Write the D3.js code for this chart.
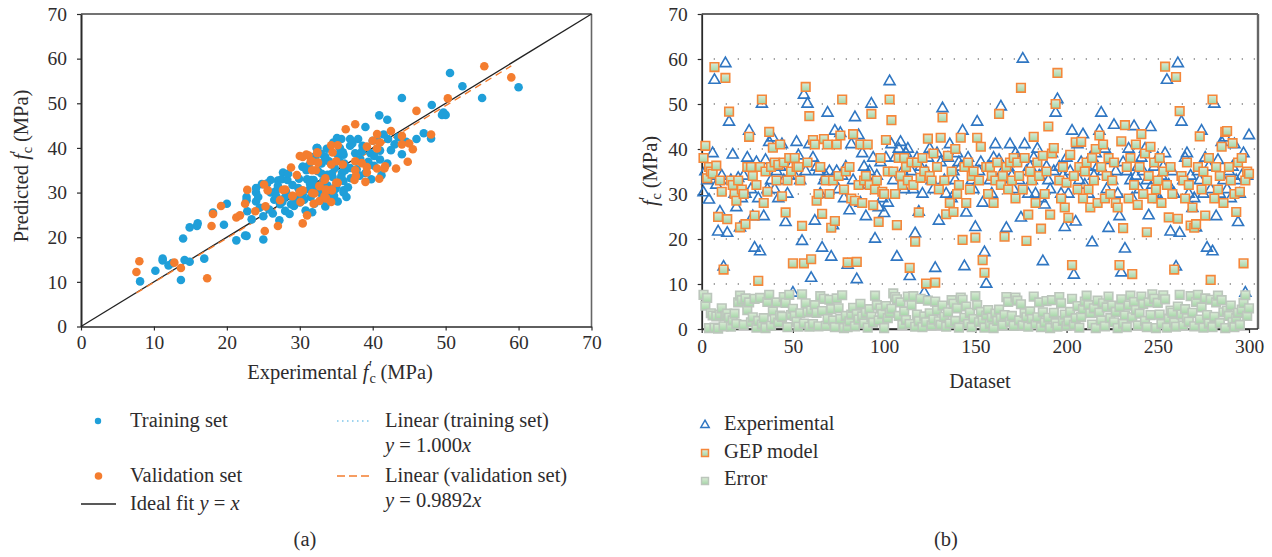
<!DOCTYPE html>
<html><head><meta charset="utf-8">
<script src="https://cdn.jsdelivr.net/npm/d3@7"></script>
<style>
html,body{margin:0;padding:0;background:#fff}
svg{display:block}
text{font-family:"Liberation Serif",serif;fill:#2e2c2d}
</style></head><body>
<svg id="c" width="1272" height="557"></svg>
<script>
const ticksA = [0,10,20,30,40,50,60,70];
const ticksBX = [0,50,100,150,200,250,300];
const gridB = [10,20,30,40,50,60];

const trainX = [8.1,10.2,11.2,11.2,12,12.5,13.7,14.2,14.9,16.9,14,14.9,15.9,16,18.1,19.6,20,21.3,22.5,22.7,25,22.7,22.8,23.4,24,24,25,26.3,27.2,28,
24,24.8,26,27,27.7,26.7,30.4,32.4,31.6,22.7,24.3,24.5,25.5,26,26.5,27,27.5,28,28.3,28.8,29.5,29.8,30,30.4,30.8,31,31.2,31.5,31.7,32,32,32,32.3,32.5,32.8,33,33,33.2,33.5,33.5,33.8,34,34,34.3,34.5,34.8,35,35.2,35.2,35.5,35.6,35.8,36,36,36.1,36,
35.7,36.9,38,32.4,38.6,36.9,36,37.6,39.4,41,42,41.2,36.9,35.7,33,31.9,30.4,40,41,42.1,43,44.6,39.7,38.5,37.2,37.8,38.3,39,40.2,40.6,33.2,33.8,34.4,34.9,35.4,36.2,36.6,37,31.3,30.6,29.2,28.6,29,27.6,26.8,25.8,
50.6,52.3,60,55,44,48.1,49.5,50,49.7,40.9,42,39,46,47,48,44,43.5,41.5,42.5,40.2,38.2,39.8,35.1,34.6,33.7,32.9,32.1,31.4,30.9,29.9,28.4,33.4,34.7,36.4,35.9,28.1,27.3];
const trainY = [10.1,12.5,15.2,14.8,13.7,14.2,10.4,14.9,14.5,15.2,19.7,22.2,22.5,23.1,25.5,22.8,27.5,19.3,20.4,20.3,19.5,28.3,25.8,24,30,28,24.7,25.3,23.8,25.9,
31,31.9,32.8,32.7,34.5,30.3,35.8,40,32.8,29,29,26.6,32,30,28.4,31.5,33,29,32.8,27.4,28.5,31,27.8,29.6,26,33,36,29,25.6,38,31,27.5,40,34.8,30,36.5,28.5,32.5,38,26.9,34,30.6,37,29,33.5,35.5,31.5,38.5,28,40,33,34.5,30,30.5,36.5,32.6,
42,42,42,40,40.5,40.5,38.5,38.8,36.9,37.4,36.5,33.9,35.5,33.7,34.2,32.8,35.8,41.6,39.4,42,40.8,41.4,38.8,39.2,41,35.2,37.5,34.4,38.2,41.8,32,31.6,34.2,30.8,37.1,35,31.2,33.2,30.7,28.4,27,25.2,31.7,27.9,29.1,26.2,
56.8,53.8,53.6,51.2,51.2,49.6,47.4,47.4,47.9,47.3,46.3,44.7,42,43.3,42.1,38.6,42.4,43,39.5,36,33.8,33,42.2,41.2,39.8,38.7,37.6,32,35,33.1,34.2,37.3,29.3,29,39,30.3,27.4];

const valX = [7.6,8,12.8,13.7,17.3,17.9,18.1,19.2,21.3,21.8,22.5,23.9,22.8,25.2,25.3,27,25.1,25.6,30.4,31,28,27.7,28.8,29.6,30.4,31.2,32.4,31.5,32.2,29,30,
27.3,29,30,30.1,32,31.9,32.7,33.6,34.3,34.4,33.6,32.7,35.2,33.4,37.5,34.3,35.2,32.4,30.9,30,31.7,34.5,35,34.3,35.9,32.5,37.6,38.5,39.2,39.2,37.6,37.7,40.6,41.7,41.6,39.2,40,41,40.6,44,44,45,31.7,35,33.5,32.7,34.4,33.6,31.7,33.4,30.4,
55.3,59,50.3,46,37.6,36.3,42.5,48,40.6,44.8,43.2,40.9,39,45.5];
const valY = [12.2,14.6,14.3,13.1,10.8,22.5,25.2,27,24.4,24.9,27.5,25.8,30.6,21.4,26.9,22.5,31.8,30.5,23.1,24.9,30.7,30.6,35.6,33.9,38,38.3,38.8,37,35,29.2,30.2,
28.3,29.3,30,27.9,29.8,27.5,28.1,28.7,27.9,30.5,30.5,31.4,32.2,32.8,32.8,40.6,40.6,39,38.5,38.2,37,39,37,36.3,36.3,36.7,37,36.6,35.7,34.5,35,33.7,35.4,35.9,35.4,40.3,41.6,41.2,39.9,42.7,40.8,41,35,32.2,33.2,31.5,30.7,30.7,29.9,29.2,30.5,
58.3,55.8,51.1,48.3,45.3,44.2,43.8,43,43.1,36.9,35.4,33.1,32.4,39.7];

const experimental = [30.3,35,33,28.7,34,39,55.3,32,21.6,26,34,13.8,59,21.3,46,33,38.7,30,27,33.5,
22.5,29,34,30,38,44,31,25,18,37,29,17.2,50,25,37.5,31,41.5,33,42.5,31,35,29,36,41,33,23.7,30,34,36,8,
34,41.5,38.5,33,19.5,52,35,50,41,11.3,38,24,36,35,30,18,33,34,48,35,16,23,44,35,31,43.5,34,29,36,14.2,
26.3,41,33,47,11,43,28,39,36,25,32,35,50,38,20,34,27,37,29,25.7,38,28,55,41,33,38,16,40,41.5,35,
31,39,40,11.7,35,31,21.2,38,26,36,30,8,35,38,40,33,31,13.5,39,24,37,49,33,30,38,41,29,35,33,39,
37,36,44,13.9,25.8,38,36,33,31,22.6,46,35,37,28,17,10,36,33,30,38,41,33,37.5,49.4,35,32,22.4,36,41,34,
31,39,38,33,24.7,60,41,35,30,36,33,38,30,40,34,29,15,27.6,36,33,31,39,35,48,51,36,30,34,22.6,38,
30,35,44,12,23.8,41,33,37,43.2,32,36,30,38,19.2,34,39,36,44,48,35,40,31,22.4,37.5,33,45.3,35,30,25,12.5,
37,17.8,35,40,33,29,45,34,36,31,38,35,40,33,25.2,44.8,32,36,30,38,28.8,34,36,39,55.3,32,21.6,35,30,13.8,
59,21.3,46,33,38,39,30,34,26.8,29,22.5,35,33,44,30,38,18,36,31,17.2,50,25,37.5,30,41.5,33,42.5,31,35,29,36,41,33,23.7,30,34,39,8,34,43];

const gepModel = [38,40.7,33.5,36,35,34.5,58.2,36.3,24.9,33,30.5,13.2,55.8,24.4,48.3,33,32,30,28.5,33,
22.6,31,30,23.3,36,42.7,36,34,25.2,32,10.7,36,51,28,35,30.5,43.8,36,40.3,37,33,36.5,41,29.5,37,25.9,33,38,35,14.6,
38,36,36,33,22.9,14.6,53.8,37,47.3,15.5,42,41,28.5,30,36,25.6,42.2,33,41,30,22.5,33,24,41,34,43,51,31,35,14.8,
36,29,43.3,28.5,14.9,32,41,28,33,34,41,32,47.8,27.5,31,33,23.8,38,30.5,30,42,35,51,46.4,35,30,23.1,38,34,32,
38,36,33,13.6,37,32,19.4,37,25.9,33.6,38,35,10.1,42.3,34,33,39,10.3,36,31,42.5,47,33,25.5,38.5,28,35,26,40,30,
32,42.5,19.8,36,28,37,31,34,35,20.3,42.5,33,40.5,15.3,12.5,36,30,36,34,28,33,37,47.8,32,34,20.5,36,31,37,33,
38,29,37,34,53.6,31,38,19.6,25.4,35,33,42.7,28,37,34,22.3,38.5,30,35,45,25.4,39,40.2,50,56.9,33,29,36,27,32.5,
24.7,38.7,14.2,34,41.5,31,36,41.6,29,35,37,31,27,38,33,40,28,43,36,41,29,34,38,30,33,37,28,27,14.2,41.7,
22.4,45.3,36,29,38,12.2,32,41,27.6,36,43.3,30,39,21.5,34,40.5,29,37,31,33,38,28,35,58.3,32,24.8,36,30,13.2,56,
24.5,48.4,34,33,29,37,32,23,27,22.5,23.3,36,42.8,31,35,25.2,33,38,10.9,51,29,36,31,34,40.5,28,43.8,44,36,33,41.3,30,26,37,30.5,38,14.6,33,35,34.5];

const errorVals = [7.6,5.2,6.9,0.2,3.5,3,0.3,2.8,0.1,3.2,4.6,0.6,2.9,3.4,2.5,0.5,1.9,3.4,1.1,5.9,
7.4,6.4,0.9,6.8,4.2,5.9,1.5,2.6,6.7,0.3,1.8,6.9,1,2.4,0.2,6,7.6,0.7,3.9,2.2,5.9,1.4,3,2.7,7.1,5.8,0.4,7.6,3.1,4.5,
2.9,1.6,0.5,3.5,7.7,1.2,5.7,3.7,0.5,4.1,1.1,5.3,3.6,0.6,7.3,4,6.7,0.7,2.2,6.5,4.4,1.9,0.4,6.8,4.6,2.2,7.5,0.2,2.9,0.4,
1.7,3.2,4.7,0.6,3.3,2.1,5.6,2.8,1.2,3.6,0.3,4.4,2.7,1.4,7.4,5.3,1.9,4.6,3.3,0.2,5.1,2.4,3.6,4.5,7.9,7.1,6.6,2.9,5.9,0.9,
3.9,2,7.2,1.1,5.3,7.3,0.5,3.2,1.7,6.7,0.4,2.8,1.5,6.3,3.5,0.8,2.1,6.1,4.1,1.7,0.9,5.2,2.7,0.5,3.7,1.2,6.4,5.6,1.8,4.6,
0.3,7,6.5,2.5,5,1.1,3.6,0.4,2.2,7.3,5.3,1.5,3.8,1.9,0.3,3,4.2,1.1,2.5,0.2,3.4,1.8,4.3,2.4,0.8,3.1,7.1,6,1.6,2.9,
0.7,7,6.3,1.9,5.5,0.8,3.5,2.6,0.5,3.9,2.2,7.2,1,2.6,5.9,0.4,3.7,1.4,6.2,2.5,0.2,6.4,3.6,1.3,0.5,7.1,5.7,1.8,3.2,0.7,
1.7,3.8,6.7,0.9,2.4,5.1,0.3,2.7,4.4,6.1,7.4,5.3,3.5,1,4.6,0.2,6.3,3.6,1.9,5.7,0.6,4.8,7.2,2.4,5.2,1.5,3.8,0.2,4.9,6.6,
1.2,3,0.4,5.2,7.4,2.6,6,4.2,0.8,3.4,7.2,5.5,1.8,0.4,5.9,3.1,7.7,6.7,0.2,5.8,3.2,1.1,7.5,6.6,0.3,2.3,4.1,3.6,1.4,0.5,
5,7.6,3.2,0.8,4.4,2.4,1.6,7.3,3.6,0.6,6,7.6,2.1,4.8,0.3,6.8,3.1,1.2,6.5,0.4,2.7,5.9,7.4,1.3,6.4,3.7,0.2,4.1,2.9,5.2,1.5,0.4,2.4,3.6,0.9,4.3,5.8,7.5,2.9,4.6];

const FS = 20.5;
const svg = d3.select("#c");
const defs = svg.append("defs");
const grad = defs.append("linearGradient").attr("id","gf").attr("x1",0).attr("y1",0).attr("x2",0).attr("y2",1);
grad.append("stop").attr("offset","0%").attr("stop-color","#dcebd8");
grad.append("stop").attr("offset","100%").attr("stop-color","#a3d6a6");

function styleAxis(g, w){
  g.selectAll("path.domain").attr("stroke","#2a2a2a").attr("stroke-width",w);
  g.selectAll(".tick line").attr("stroke","#2a2a2a").attr("stroke-width",1.2);
  g.selectAll(".tick text").style("font-family",'"Liberation Serif",serif').style("font-size","19.5px").attr("fill","#2e2c2d");
}
function fc(t, s){
  t.append("tspan").attr("font-style","italic").text("f");
  t.append("tspan").attr("font-size",s*0.7).attr("dx",1).attr("dy",4).text("c");
  t.append("tspan").attr("font-size",s*0.8).attr("dx",-7).attr("dy",-11).text("′");
  t.append("tspan").attr("dx",3).attr("dy",7).text("\u00a0(MPa)");
}

/* panel a */
const ax = d3.scaleLinear().domain([0,70]).range([81,591.5]);
const ay = d3.scaleLinear().domain([0,70]).range([326.5,14]);
const gA = svg.append("g");
gA.append("line").attr("x1",ax(0)).attr("x2",ax(70)).attr("y1",ay(70)).attr("y2",ay(70)).attr("stroke","#444").attr("stroke-width",1.4);
gA.append("line").attr("x1",ax(70)).attr("x2",ax(70)).attr("y1",ay(70)).attr("y2",ay(0)).attr("stroke","#666").attr("stroke-width",1.6);
const axb = gA.append("g").attr("transform",`translate(0,${ay(0)})`).call(d3.axisBottom(ax).tickValues(ticksA).tickSize(4).tickSizeOuter(0).tickPadding(5));
styleAxis(axb,1.4);
const ayl = gA.append("g").attr("transform",`translate(${ax(0)},0)`).call(d3.axisLeft(ay).tickValues(ticksA).tickSize(4).tickSizeOuter(0).tickPadding(10));
styleAxis(ayl,2);
gA.append("line").attr("x1",ax(0)).attr("y1",ay(0)).attr("x2",ax(70)).attr("y2",ay(70)).attr("stroke","#222").attr("stroke-width",1.3);
gA.append("line").attr("x1",ax(7.6)).attr("y1",ay(7.6*0.9892)).attr("x2",ax(59)).attr("y2",ay(59*0.9892)).attr("stroke","#f47d2f").attr("stroke-width",1.4).attr("stroke-dasharray","7 5");
gA.selectAll("circle.t").data(trainX).join("circle").attr("class","t").attr("cx",d=>ax(d)).attr("cy",(d,i)=>ay(trainY[i])).attr("r",4.3).attr("fill","#1f9fd9");
gA.selectAll("circle.v").data(valX).join("circle").attr("class","v").attr("cx",d=>ax(d)).attr("cy",(d,i)=>ay(valY[i])).attr("r",4.3).attr("fill","#f47d2f");

const xlA = svg.append("text").attr("x",340).attr("y",379).attr("text-anchor","middle").attr("font-size",FS);
xlA.append("tspan").text("Experimental\u00a0"); fc(xlA,FS);
const ylA = svg.append("text").attr("transform","translate(28,166) rotate(-90)").attr("text-anchor","middle").attr("font-size",FS);
ylA.append("tspan").text("Predicted\u00a0"); fc(ylA,FS);

/* legend a */
const tx = (x,y,s)=>svg.append("text").attr("x",x).attr("y",y).attr("font-size",FS).text(s);
function eq(x,y,b){
  const t = svg.append("text").attr("x",x).attr("y",y).attr("font-size",FS);
  t.append("tspan").attr("font-style","italic").text("y");
  t.append("tspan").text("\u00a0=\u00a0"+b);
  t.append("tspan").attr("font-style","italic").text("x");
}
svg.append("circle").attr("cx",98).attr("cy",421).attr("r",3.2).attr("fill","#1f9fd9");
tx(130,427,"Training set");
svg.append("circle").attr("cx",98.5).attr("cy",476).attr("r",3.8).attr("fill","#f47d2f");
tx(130,482,"Validation set");
svg.append("line").attr("x1",81).attr("x2",116).attr("y1",504).attr("y2",504).attr("stroke","#222").attr("stroke-width",1.3);
const ideal = svg.append("text").attr("x",130).attr("y",510).attr("font-size",FS);
ideal.append("tspan").text("Ideal fit\u00a0");
ideal.append("tspan").attr("font-style","italic").text("y");
ideal.append("tspan").text("\u00a0=\u00a0");
ideal.append("tspan").attr("font-style","italic").text("x");
svg.append("line").attr("x1",337).attr("x2",372).attr("y1",421).attr("y2",421).attr("stroke","#3fa9e0").attr("stroke-width",1.2).attr("stroke-dasharray","1.5 3.5");
tx(385,427,"Linear (training set)");
eq(385,452,"1.000");
svg.append("line").attr("x1",337).attr("x2",372).attr("y1",476).attr("y2",476).attr("stroke","#f47d2f").attr("stroke-width",1.3).attr("stroke-dasharray","8 4");
tx(385,482,"Linear (validation set)");
eq(385,507,"0.9892");
svg.append("text").attr("x",305).attr("y",546).attr("text-anchor","middle").attr("font-size",FS).text("(a)");

/* panel b */
const bx = d3.scaleLinear().domain([0,300]).range([701.7,1249]);
const by = d3.scaleLinear().domain([0,70]).range([329,14]);
const gB = svg.append("g");
gB.selectAll("line.g").data(gridB).join("line").attr("class","g").attr("x1",bx(0)).attr("x2",1257).attr("y1",d=>by(d)).attr("y2",d=>by(d))
  .attr("stroke","#888").attr("stroke-width",1.3).attr("stroke-dasharray","1.3 10.7");
gB.append("line").attr("x1",bx(0)).attr("x2",1258).attr("y1",by(70)).attr("y2",by(70)).attr("stroke","#333").attr("stroke-width",1.4);
gB.append("line").attr("x1",1258).attr("x2",1258).attr("y1",by(70)).attr("y2",by(0)).attr("stroke","#666").attr("stroke-width",2.4);
gB.append("line").attr("x1",bx(0)).attr("x2",1258).attr("y1",by(0)).attr("y2",by(0)).attr("stroke","#2a2a2a").attr("stroke-width",1.4);
const bxb = gB.append("g").attr("transform",`translate(0,${by(0)})`).call(d3.axisBottom(bx).tickValues(ticksBX).tickSize(4).tickSizeOuter(0).tickPadding(6));
styleAxis(bxb,1.4);
const byl = gB.append("g").attr("transform",`translate(${bx(0)},0)`).call(d3.axisLeft(by).tickValues(ticksA).tickSize(4).tickSizeOuter(0).tickPadding(10));
styleAxis(byl,1.8);
const tri = d3.symbol().type(d3.symbolTriangle).size(52);
const sq = d3.symbol().type(d3.symbolSquare).size(74);
gB.selectAll("path.e").data(experimental).join("path").attr("class","e").attr("d",tri)
  .attr("transform",(d,i)=>`translate(${bx(i+1)},${by(d)})`).attr("fill","none").attr("stroke","#2f76c2").attr("stroke-width",1.6);
function squares(cls,vals,color){
  gB.selectAll("path."+cls).data(vals).join("path").attr("class",cls).attr("d",sq)
    .attr("transform",(d,i)=>`translate(${bx(i+1)},${by(d)})`).attr("fill","url(#gf)").attr("stroke",color).attr("stroke-width",1.6);
}
squares("m",gepModel,"#f5873a");
squares("r",errorVals,"#bcc6bc");

const ylB = svg.append("text").attr("transform","translate(657,171) rotate(-90)").attr("text-anchor","middle").attr("font-size",FS);
fc(ylB,FS);
svg.append("text").attr("x",980).attr("y",388).attr("text-anchor","middle").attr("font-size",FS).text("Dataset");
svg.append("text").attr("x",946).attr("y",546).attr("text-anchor","middle").attr("font-size",FS).text("(b)");

/* legend b */
const legT = d3.symbol().type(d3.symbolTriangle).size(30);
const legS = d3.symbol().type(d3.symbolSquare).size(48);
svg.append("path").attr("d",legT).attr("transform","translate(705,425)").attr("fill","none").attr("stroke","#2f76c2").attr("stroke-width",1.5);
svg.append("path").attr("d",legS).attr("transform","translate(705,453)").attr("fill","url(#gf)").attr("stroke","#f5873a").attr("stroke-width",1.5);
svg.append("path").attr("d",legS).attr("transform","translate(705,481)").attr("fill","url(#gf)").attr("stroke","#bcc6bc").attr("stroke-width",1.5);
tx(724,430,"Experimental");
tx(724,458,"GEP model");
tx(724,485,"Error");
</script>
</body></html>
